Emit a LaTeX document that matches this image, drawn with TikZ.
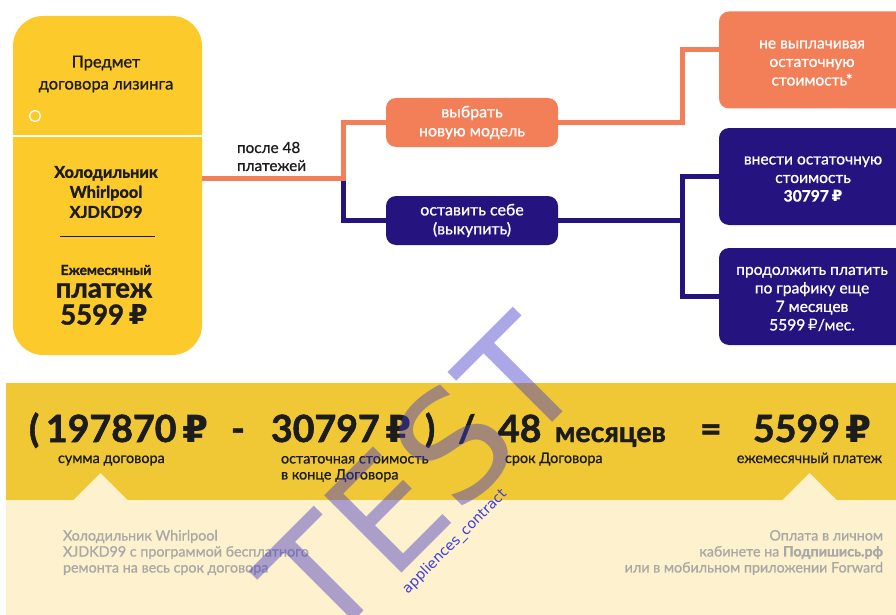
\documentclass[tikz,border=0pt]{standalone}
\usepackage{fontspec}
\setmainfont{Lato}
\newfontfamily\medfont{Lato}[UprightFeatures={FakeBold=0.9}, BoldFeatures={FakeBold=1.2}]
\newfontfamily\heavyfont{Lato}[UprightFeatures={FakeBold=1.5}, BoldFeatures={FakeBold=1.5}]
\newfontfamily\rubfont{DejaVu Sans}
\newfontfamily\wmfont{DejaVu Sans}
\definecolor{cardyellow}{HTML}{FDCA2C}
\definecolor{orangec}{HTML}{F27F58}
\definecolor{navyc}{HTML}{25137F}
\definecolor{bandyellow}{HTML}{F0C835}
\definecolor{creamc}{HTML}{FEF1CD}
\definecolor{darktext}{HTML}{1C1C1C}
\definecolor{graytext}{HTML}{A8A8A8}
\definecolor{wmc}{RGB}{70,60,200}
\definecolor{wmblue}{RGB}{60,60,225}
\newcommand\rub{{\rubfont ₽}}
\begin{document}
\begin{tikzpicture}[x=1pt,y=-1pt,
  every node/.style={inner sep=0pt, outer sep=0pt, text=darktext},
  oline/.style={draw=orangec, line width=5pt, line join=miter},
  pline/.style={draw=navyc, line width=5pt, line join=miter},
  btn/.style={rounded corners=10pt, minimum width=172pt, minimum height=49pt},
  bigbox/.style={rounded corners=10pt, minimum width=190pt, minimum height=97pt},
  wtxt/.style={text=white, align=center, font=\medfont\fontsize{15.6}{18.5}\selectfont},
  fbig/.style={anchor=base west, font=\heavyfont\bfseries\fontsize{37.5}{36}\selectfont},
  flbl/.style={font=\medfont\fontsize{14.4}{16}\selectfont},
  fgray/.style={text=graytext, font=\medfont\fontsize{14.3}{16}\selectfont}
]
\useasboundingbox (0,0) rectangle (896,615);
\clip (0,0) rectangle (896,615);

% left card
\node[fill=cardyellow, rounded corners=30pt, minimum width=189pt, minimum height=339pt] (card) at (107.5,185.5) {};
\draw[white, line width=1.5pt] (card.west |- 0,136) -- (card.east |- 0,136);
\node[draw=white, line width=1.3pt, circle, minimum size=11pt] (dot) at (35,116) {};
\node[align=center, font=\medfont\fontsize{16.5}{22}\selectfont] (title) at (106,74) {Предмет\\договора лизинга};
\node[align=center, font=\heavyfont\bfseries\fontsize{16.3}{20}\selectfont] (model) at (106,192) {Холодильник\\Whirlpool\\XJDKD99};
\draw[darktext, line width=0.8pt] (60,236) -- (155,236);
\node[font=\heavyfont\bfseries\fontsize{13.8}{16}\selectfont] (em) at (106,270) {Ежемесячный};
\node[align=center, font=\heavyfont\bfseries\fontsize{27.5}{27}\selectfont] (pay) at (104,304) {платеж\\5599\,\rub};

% label
\node[anchor=west, align=left, font=\medfont\fontsize{15.3}{18}\selectfont] (lbl) at (237,156.5) {после 48\\платежей};

% buttons
\node[btn, fill=orangec] (b1) at (472,122.5) {};
\node[wtxt, font=\medfont\fontsize{16}{19}\selectfont] (b1t) at (472,122.5) {выбрать\\новую модель};
\node[btn, fill=navyc] (b2) at (472,220.5) {};
\node[wtxt, font=\medfont\fontsize{16}{19}\selectfont] (b2t) at (472,220.5) {оставить себе\\(выкупить)};

% right boxes
\node[bigbox, fill=orangec] (r1) at (814,60) {};
\node[wtxt] (r1t) at (812,63) {не выплачивая\\остаточную\\стоимость*};
\node[bigbox, fill=navyc] (r2) at (814,176.5) {};
\node[wtxt] (r2t) at (813,179) {внести остаточную\\стоимость\\\textbf{30797\,\rub}};
\node[bigbox, fill=navyc] (r3) at (814,296.5) {};
\node[wtxt] (r3t) at (812,299) {продолжить платить\\по графику еще\\7 месяцев\\5599\,\rub/мес.};

% connectors
\coordinate (j1) at (343,178);
\coordinate (j2) at (343,180.5);
\coordinate (j3) at (682,50);
\coordinate (j4) at (682,296.5);
\draw[oline] (card.east |- j1) -- (j1) |- (b1.west);
\draw[pline] (j2) |- (b2.west);
\draw[oline] (b1.east) -| (j3) -- (r1.west |- j3);
\draw[pline] (b2.east) -- (b2.east -| j4);
\draw[pline] (r2.west) -| (j4) -- (r3.west);

% bottom
\fill[bandyellow] (6,383) rectangle (896,500);
\fill[creamc] (6,500) rectangle (896,615);
\fill[creamc] (73,500.5) -- (100.5,473) -- (128,500.5) -- cycle;
\fill[creamc] (782,500.5) -- (809.5,473) -- (837,500.5) -- cycle;

\node[fbig] (lp) at (29,442) {(};
\node[fbig] (n1) at (46,442) {197870\hspace{0.15em}\rub};
\node[fbig] (mn) at (231,442) {-};
\node[fbig] (n2) at (271,442) {30797\hspace{0.15em}\rub};
\node[fbig] (rp) at (425,442) {)};
\node[fbig] (sl) at (458,442) {/};
\node[fbig] (n3) at (498,442) {48};
\node[anchor=base west, font=\heavyfont\bfseries\fontsize{28.5}{29}\selectfont] (mes) at (555,442) {месяцев};
\node[fbig] (eq) at (700,442) {=};
\node[fbig] (n4) at (753,442) {5599\hspace{0.15em}\rub};

\node[flbl, anchor=base west] (l1) at (58,463) {сумма договора};
\node[flbl, anchor=west, align=left] (l2) at (281,469) {остаточная стоимость\\в конце Договора};
\node[flbl, anchor=base west] (l3) at (505,463) {срок Договора};
\node[flbl, anchor=base east] (l4) at (882,463) {ежемесячный платеж};

\node[fgray, anchor=west, align=left] (g1) at (63,552.5) {Холодильник Whirlpool\\XJDKD99 с программой бесплатного\\ремонта на весь срок договора};
\node[fgray, anchor=east, align=right] (g2) at (883,552.5) {Оплата в личном\\кабинете на \textbf{Подпишись.рф}\\или в мобильном приложении Forward};

% watermark
\node[font=\wmfont\fontsize{150}{150}\selectfont, text=wmc, text opacity=0.45, rotate=45] (wm) at (420,478) {TEST};
\node[font=\wmfont\fontsize{14}{14}\selectfont, text=wmblue, rotate=45] (wm2) at (455,542) {appliences\_contract};
\end{tikzpicture}
\end{document}
